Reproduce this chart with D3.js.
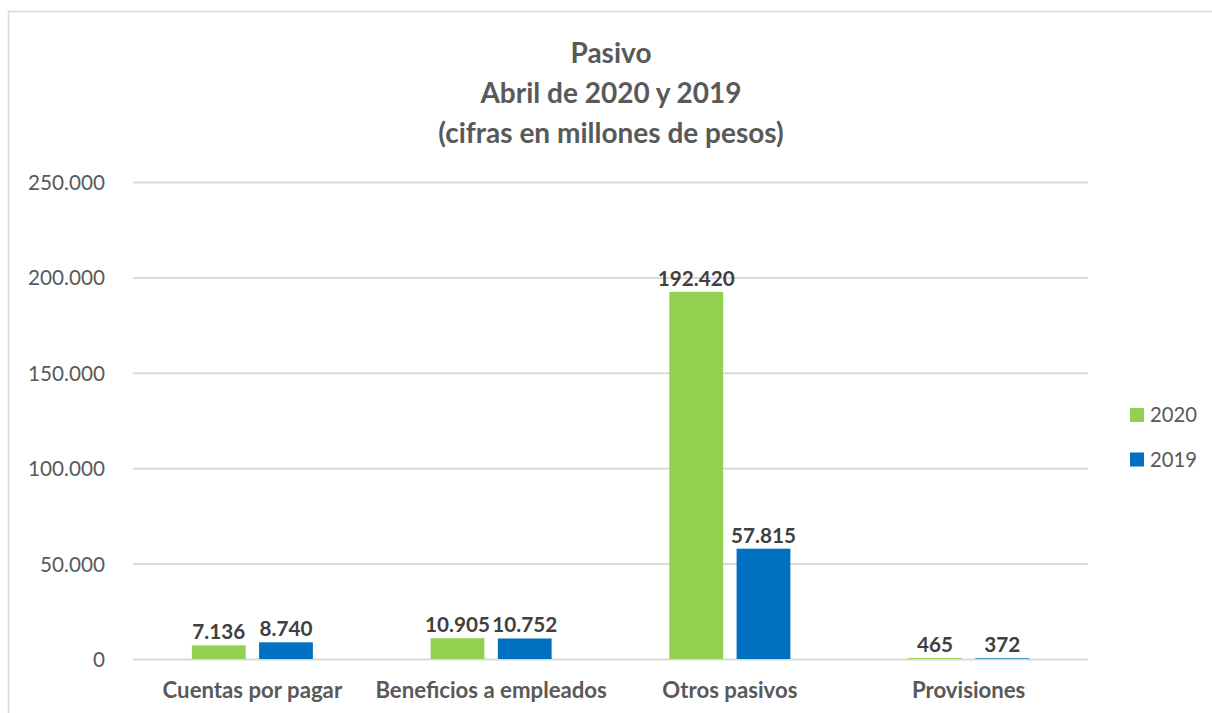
<!DOCTYPE html>
<html><head><meta charset="utf-8">
<script src="https://cdn.jsdelivr.net/npm/d3@7"></script>
<style>
html,body{margin:0;padding:0;background:#fff;}
svg{display:block;font-family:Lato,"Open Sans",sans-serif;}
</style></head>
<body>
<svg id="c" width="1212" height="713"></svg>
<script>
const categories = ["Cuentas por pagar","Beneficios a empleados","Otros pasivos","Provisiones"];
const seriesNames = ["2020","2019"];
const values2020 = [7136, 10905, 192420, 465];
const values2019 = [8740, 10752, 57815, 372];
const yTicks = [0, 50000, 100000, 150000, 200000, 250000];
const titleLines = ["Pasivo","Abril de 2020 y 2019","(cifras en millones de pesos)"];
const colors = ["#92d050","#0070c0"];

(function(){
const svg = d3.select("#c");
const fmt = v => d3.format(",")(v).replace(/,/g, ".");

svg.append("rect").attr("x",8.5).attr("y",11.5).attr("width",1230).attr("height",730)
  .attr("fill","#fff").attr("stroke","#d9d9d9").attr("stroke-width",1.5);

const mL = 133, mR = 1088, mT = 182, mB = 659;
const x0 = d3.scaleBand().domain(categories).range([mL,mR]).paddingInner(0).paddingOuter(0);
const x1 = d3.scaleBand().domain(seriesNames).range([x0.bandwidth()/2-60.5, x0.bandwidth()/2+60.5]).paddingInner(0.2).paddingOuter(0);
const y = d3.scaleLinear().domain([0,250000]).range([mB, mT]);

// title
svg.append("g").selectAll("text").data(titleLines).join("text")
  .attr("x", 611).attr("y",(d,i)=>63+i*40)
  .attr("text-anchor","middle").attr("font-weight","bold").attr("font-size",28)
  .attr("fill","#595959").text(d=>d);

// gridlines
const yAxis = d3.axisLeft(y).tickValues(yTicks).tickFormat(fmt).tickSize(-(mR-mL)).tickPadding(28);
const ga = svg.append("g").attr("transform",`translate(${mL},0)`).call(yAxis);
ga.select(".domain").remove();
ga.selectAll(".tick line").attr("stroke","#d9d9d9").attr("stroke-width",2);
ga.selectAll(".tick text").attr("font-size",20.7).attr("fill","#595959").attr("font-family","Lato,'Open Sans',sans-serif").attr("dy","0.36em");

// bars
const data = categories.map((c,i)=>({cat:c, vals:[{s:"2020",v:values2020[i]},{s:"2019",v:values2019[i]}]}));
const groups = svg.append("g").selectAll("g").data(data).join("g")
  .attr("transform",d=>`translate(${x0(d.cat)},0)`);
groups.selectAll("rect").data(d=>d.vals).join("rect")
  .attr("x",d=>x1(d.s)).attr("width",x1.bandwidth())
  .attr("y",d=>y(d.v)).attr("height",d=>mB-y(d.v))
  .attr("fill",(d,i)=>colors[i]);
groups.selectAll("text").data(d=>d.vals).join("text")
  .attr("x",d=>x1(d.s)+x1.bandwidth()/2).attr("y",d=>y(d.v)-6)
  .attr("text-anchor","middle").attr("font-weight","bold").attr("font-size",20.7)
  .attr("fill","#404040").text(d=>fmt(d.v));

// x axis labels
const xAxis = d3.axisBottom(x0).tickSize(0).tickPadding(23);
const gx = svg.append("g").attr("transform",`translate(0,${mB})`).call(xAxis);
gx.select(".domain").remove();
gx.selectAll(".tick text").attr("font-size",22.2).attr("font-weight","bold").attr("fill","#595959").attr("font-family","Lato,'Open Sans',sans-serif");

// legend
const lg = svg.append("g").selectAll("g").data(seriesNames).join("g")
  .attr("transform",(d,i)=>`translate(1130,${408+i*44.5})`);
lg.append("rect").attr("width",14).attr("height",14).attr("fill",(d,i)=>colors[i]);
lg.append("text").attr("x",20).attr("y",7).attr("dy","0.35em").attr("font-size",20.3).attr("fill","#595959").text(d=>d);
})();
</script>
</body></html>
